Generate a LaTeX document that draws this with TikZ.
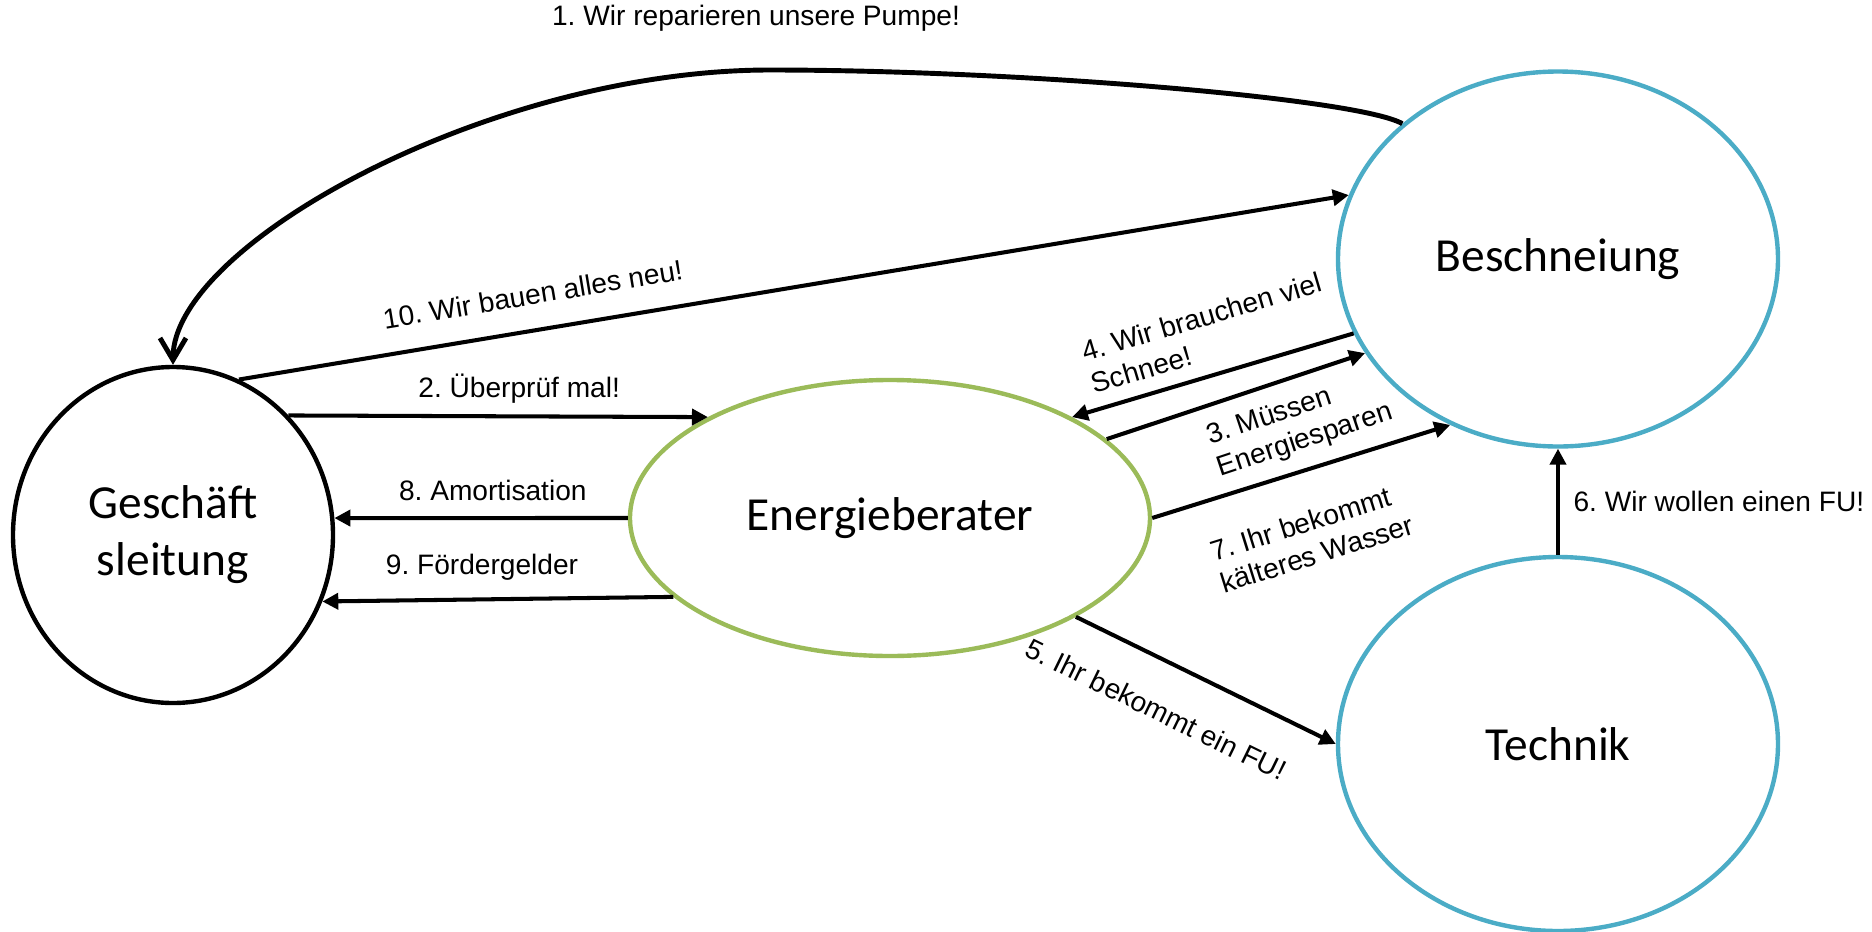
\documentclass[tikz,border=0pt]{standalone}
\usepackage{fontspec}
\setmainfont{Liberation Sans}
\newfontfamily\circfont{Carlito}
\usepackage{xcolor}
\usepackage{tikz}
\usetikzlibrary{shapes,arrows,positioning,calc,arrows.meta}
\frenchspacing

\definecolor{olivegreen}{HTML}{9BBB59}
\definecolor{aqua}{HTML}{4BACC6}

\begin{document}
\begin{tikzpicture}[
    actor/.style={ellipse, draw, line width=1.25pt, fill=white, align=center, inner sep=0pt,
        font=\circfont\fontsize{13.5}{16.2}\selectfont},
    msg/.style={line width=1.15pt, -{Triangle[length=1.6mm,width=1.6mm]}},
    lbl/.style={font=\fontsize{8}{9.5}\selectfont, inner sep=1pt, align=left}
]
    \useasboundingbox (0,0) rectangle (18.72,9.31);

    % Bubbles
    \node[actor, minimum width=3.2cm, minimum height=3.36cm] (gl) at (1.73,3.96) {Geschäft\\sleitung};
    \node[actor, draw=olivegreen, minimum width=5.2cm, minimum height=2.76cm] (en) at (8.90,4.13) {Energieberater};
    \node[actor, draw=aqua, minimum width=4.4cm, minimum height=3.75cm] (be) at (15.58,6.72) {Beschneiung};
    \node[actor, draw=aqua, minimum width=4.4cm, minimum height=3.74cm] (te) at (15.58,1.87) {Technik};

    % Curved one over the top
    \coordinate (peak) at (7.7,8.61);
    \draw[line width=1.4pt, -{Straight Barb[length=2.2mm,width=2.6mm]}] (be.139) to[out=150, in=0, out distance=0.5cm, in distance=2.5cm] (peak)
        to[out=180, in=90, out distance=2.8cm, in distance=1.2cm] node[lbl, pos=0, above=0.33cm, xshift=-0.14cm] {1. Wir reparieren unsere Pumpe!} (gl.north);

    % Straight ones
    \draw[msg] (gl.67) -- node[lbl, sloped, pos=0.27, above=0.2cm] {10. Wir bauen alles neu!} (be.163);
    \draw[msg] (gl.46) -- node[lbl, pos=0.55, above=0.07cm] {2. Überprüf mal!} (en.151);
    \draw[msg] (en.west) -- node[lbl, pos=0.46, above=0.12cm] {8. Amortisation} (gl.6);
    \draw[msg] (en.200) -- node[lbl, pos=0.545, above=0.14cm] {9. Fördergelder} (gl.336);
    \draw[msg] (be.200) -- node[lbl, sloped, pos=0.48, above=0.1cm] {4. Wir brauchen viel\\Schnee!} (en.29);
    \draw[msg] (en.20) -- node[lbl, sloped, pos=0.69, below=0.13cm] {3. Müssen\\Energiesparen} (be.206);
    \draw[msg] (en.east) -- node[lbl, sloped, pos=0.47, below=0.34cm] {7. Ihr bekommt\\kälteres Wasser} (be.237);
    \draw[msg] (en.332) -- node[lbl, sloped, pos=0.39, below=0.32cm] {5. Ihr bekommt ein FU!} (te.west);
    \draw[msg] (te.north) -- node[lbl, right=0.1cm] {6. Wir wollen einen FU!} (be.south);
\end{tikzpicture}
\end{document}
